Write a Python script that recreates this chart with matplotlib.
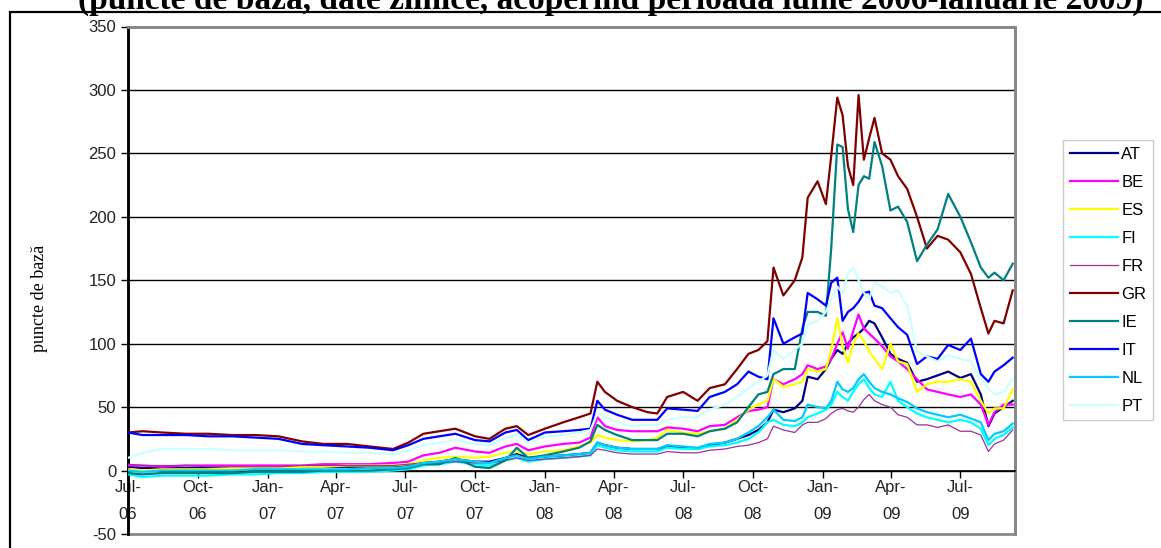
import datetime as dt
import matplotlib.pyplot as plt
from matplotlib.patches import Rectangle

# sample dates
dates = [
    "2006-07-01", "2006-07-20", "2006-08-15", "2006-09-15", "2006-10-15", "2006-11-15",
    "2006-12-15", "2007-01-15", "2007-02-15", "2007-03-15", "2007-04-15", "2007-05-15",
    "2007-06-15", "2007-07-05", "2007-07-25", "2007-08-15", "2007-09-05", "2007-10-01",
    "2007-10-20", "2007-11-10", "2007-11-25", "2007-12-10", "2008-01-01", "2008-01-25",
    "2008-02-15", "2008-03-01", "2008-03-10", "2008-03-20", "2008-04-05", "2008-04-25",
    "2008-05-15", "2008-05-28", "2008-06-10", "2008-07-01", "2008-07-20", "2008-08-05",
    "2008-08-25", "2008-09-10", "2008-09-25", "2008-10-08", "2008-10-20", "2008-10-28",
    "2008-11-10", "2008-11-25", "2008-12-05", "2008-12-12", "2008-12-25", "2009-01-05",
    "2009-01-12", "2009-01-20", "2009-01-27", "2009-02-03", "2009-02-10", "2009-02-17",
    "2009-02-24", "2009-03-03", "2009-03-10", "2009-03-20", "2009-03-31", "2009-04-10",
    "2009-04-22", "2009-05-05", "2009-05-18", "2009-06-01", "2009-06-15", "2009-07-01",
    "2009-07-15", "2009-07-28", "2009-08-07", "2009-08-15", "2009-08-27", "2009-09-08",
]

AT = [3, 2, 2, 2, 2, 2, 2, 2, 3, 3, 3, 3, 3, 4, 6, 7, 9, 7, 7, 10, 13, 10, 11, 12,
      13, 14, 22, 20, 18, 17, 17, 17, 19, 18, 17, 20, 22, 25, 28, 32, 38, 48, 46, 49,
      55, 74, 72, 80, 88, 95, 92, 100, 105, 108, 112, 118, 116, 105, 92, 88, 85, 70,
      72, 75, 78, 73, 76, 60, 35, 45, 50, 55]
BE = [4, 4, 3, 4, 4, 4, 4, 4, 4, 5, 5, 5, 6, 7, 12, 14, 18, 15, 14, 19, 21, 16, 19, 21,
      22, 26, 42, 35, 32, 31, 31, 31, 34, 33, 31, 35, 36, 42, 47, 48, 50, 72, 68, 72,
      76, 83, 80, 82, 88, 100, 109, 96, 110, 123, 112, 108, 104, 98, 90, 86, 80, 72,
      64, 62, 60, 58, 60, 52, 36, 46, 52, 52]
ES = [1, 0, 1, 1, 1, 2, 2, 2, 3, 3, 4, 4, 4, 5, 8, 10, 11, 10, 11, 14, 15, 13, 15, 16,
      19, 22, 28, 26, 24, 23, 24, 26, 32, 30, 29, 31, 33, 40, 48, 52, 55, 72, 66, 68,
      70, 80, 78, 80, 95, 120, 98, 85, 100, 108, 102, 94, 88, 80, 100, 86, 84, 62,
      68, 70, 70, 72, 70, 55, 45, 49, 49, 64]
FI = [-3, -5, -4, -4, -4, -3, -3, -2, -2, -1, -1, -1, 0, 1, 4, 5, 7, 5, 4, 8, 10, 7, 9, 10,
      11, 12, 20, 18, 16, 15, 15, 15, 18, 17, 17, 19, 20, 22, 25, 30, 38, 40, 36, 35,
      38, 42, 45, 48, 52, 62, 58, 55, 62, 68, 72, 65, 60, 58, 70, 55, 50, 45,
      42, 40, 38, 40, 38, 33, 20, 25, 28, 34]
FR = [5, 4, 4, 4, 3, 3, 3, 3, 4, 4, 4, 4, 4, 5, 6, 6, 7, 6, 6, 8, 10, 8, 9, 10,
      11, 12, 17, 16, 14, 13, 13, 13, 15, 14, 14, 16, 17, 19, 20, 22, 25, 35, 32, 30,
      36, 38, 38, 41, 45, 48, 49, 47, 46, 50, 56, 60, 55, 52, 50, 44, 42, 36,
      36, 34, 36, 31, 31, 28, 15, 21, 24, 32]
GR = [30, 31, 30, 29, 29, 28, 28, 27, 23, 21, 21, 19, 17, 22, 29, 31, 33, 27, 25, 33, 35, 28, 33, 38,
      42, 45, 70, 62, 55, 50, 46, 45, 58, 62, 55, 65, 68, 80, 92, 95, 102, 160, 138, 150,
      168, 215, 228, 210, 248, 294, 280, 240, 225, 296, 245, 262, 278, 250, 245, 232, 222, 200,
      175, 185, 182, 172, 155, 128, 108, 118, 116, 142]
IE = [-2, -3, -2, -2, -2, -2, -1, -1, -1, 0, 0, 0, 1, 2, 5, 5, 10, 3, 2, 8, 18, 10, 12, 15,
      18, 23, 36, 32, 28, 24, 24, 24, 29, 29, 27, 31, 33, 38, 50, 60, 62, 76, 80, 80,
      112, 125, 125, 122, 175, 257, 255, 206, 188, 225, 232, 230, 259, 240, 205, 208, 196, 165,
      178, 190, 218, 200, 180, 160, 152, 156, 150, 163]
IT = [30, 28, 28, 28, 27, 27, 26, 25, 21, 20, 19, 18, 16, 20, 25, 27, 29, 24, 23, 30, 32, 24, 30, 31,
      32, 33, 55, 48, 44, 40, 40, 40, 49, 48, 47, 58, 62, 68, 78, 74, 72, 120, 100, 105,
      108, 140, 135, 130, 148, 152, 118, 125, 128, 133, 140, 141, 130, 128, 120, 113, 107, 84,
      90, 88, 99, 95, 104, 76, 70, 78, 83, 89]
NL = [0, -1, 0, 0, 0, 0, 1, 1, 1, 1, 1, 2, 2, 3, 6, 7, 9, 7, 6, 10, 12, 9, 11, 12,
      13, 14, 22, 20, 18, 17, 17, 17, 20, 19, 18, 21, 22, 25, 30, 35, 42, 48, 40, 39,
      42, 52, 50, 49, 55, 70, 64, 62, 65, 72, 76, 70, 65, 62, 60, 57, 54, 49,
      46, 44, 42, 44, 41, 38, 24, 29, 31, 37]
PT = [10, 14, 17, 17, 17, 16, 16, 16, 15, 15, 14, 14, 13, 16, 20, 22, 24, 21, 20, 26, 28, 22, 27, 28,
      30, 32, 45, 42, 38, 35, 36, 36, 40, 42, 42, 48, 52, 58, 65, 70, 75, 95, 88, 95,
      100, 115, 118, 125, 135, 145, 140, 155, 160, 150, 140, 135, 148, 145, 140, 142, 130, 94,
      90, 86, 91, 88, 86, 72, 65, 60, 62, 72]

countries = ["AT", "BE", "ES", "FI", "FR", "GR", "IE", "IT", "NL", "PT"]
series = [AT, BE, ES, FI, FR, GR, IE, IT, NL, PT]
colors = ["#000080", "#FF00FF", "#FFFF00", "#00FFFF", "#993399",
          "#800000", "#008080", "#0000FF", "#00CCFF", "#CCFFFF"]
widths = [1.6, 1.6, 1.6, 1.6, 0.9, 1.6, 1.6, 1.6, 1.6, 1.6]

tick_dates = ["2006-07-01", "2006-10-01", "2007-01-01", "2007-04-01", "2007-07-01",
              "2007-10-01", "2008-01-01", "2008-04-01", "2008-07-01", "2008-10-01",
              "2009-01-01", "2009-04-01", "2009-07-01"]
tick_labels = ["Jul-\n06", "Oct-\n06", "Jan-\n07", "Apr-\n07", "Jul-\n07", "Oct-\n07",
               "Jan-\n08", "Apr-\n08", "Jul-\n08", "Oct-\n08", "Jan-\n09", "Apr-\n09",
               "Jul-\n09"]
yticks = [-50, 0, 50, 100, 150, 200, 250, 300, 350]

title = "(puncte de bază, date zilnice, acoperind perioada iunie 2006-ianuarie 2009)"
ylabel = "puncte de bază"

plt.rcParams['font.family'] = ['Liberation Sans', 'DejaVu Sans']
plt.rcParams['axes.unicode_minus'] = False

to_dt = lambda s: dt.datetime.strptime(s, "%Y-%m-%d")
x = [to_dt(d) for d in dates]

fig = plt.figure(figsize=(11.61, 5.48), dpi=100)
ax = fig.add_axes([128 / 1161, 1 - 534 / 548, (1015 - 128) / 1161, (534 - 26.5) / 548])

# outer frame of the picture (right and bottom edges fall outside)
fig.patches.append(Rectangle((10 / 1161, -0.1), 1.2, 1.1 - 12 / 548,
                             transform=fig.transFigure, fill=False,
                             edgecolor="black", lw=1.6))

# horizontal grid lines
for v in yticks[1:-1]:
    ax.axhline(v, color="black", lw=1, zorder=1)

for name, vals, c, w in zip(countries, series, colors, widths):
    ax.plot(x, vals, color=c, lw=w, label=name, zorder=3)

ax.set_ylim(-50, 350)
ax.set_xlim(to_dt("2006-07-01"), to_dt("2009-09-11"))
ax.set_yticks(yticks)
ax.set_xticks([to_dt(d) for d in tick_dates])
ax.set_xticklabels(tick_labels)

# plot area border in grey, x axis at zero
for s in ["top", "right"]:
    ax.spines[s].set_color("#888888")
    ax.spines[s].set_linewidth(2)
ax.spines["bottom"].set_position(("data", 0))
ax.spines["bottom"].set_linewidth(1.2)
ax.spines["left"].set_linewidth(2)
ax.add_patch(Rectangle((0, 0), 1, 1, transform=ax.transAxes, fill=False,
                       edgecolor="#888888", lw=2, zorder=0, clip_on=False))

ax.tick_params(axis="both", direction="out", length=5, width=1, labelsize=12,
               labelcolor="#222222")
ax.tick_params(axis="x", pad=2)
for lbl in ax.get_xticklabels():
    lbl.set_linespacing(1.95)

fig.text(40 / 1161, 1 - 298 / 548, ylabel, rotation=90, va="center", ha="center",
         fontsize=13, family=["Liberation Serif", "DejaVu Serif"])
fig.text(611 / 1161, 1 - 9 / 548, title, ha="center", va="baseline", fontsize=24,
         fontweight="bold", family=["Liberation Serif", "DejaVu Serif"])

leg = fig.legend(loc="upper left", bbox_to_anchor=(1063 / 1161, 1 - 140 / 548),
                 borderaxespad=0, frameon=True, fancybox=False, fontsize=12,
                 handlelength=2.9, handletextpad=0.2, labelspacing=0.78,
                 borderpad=0.4)
leg.get_frame().set_edgecolor("#c0c0c0")
leg.get_frame().set_linewidth(1)

fig.savefig("out.png", dpi=100)
